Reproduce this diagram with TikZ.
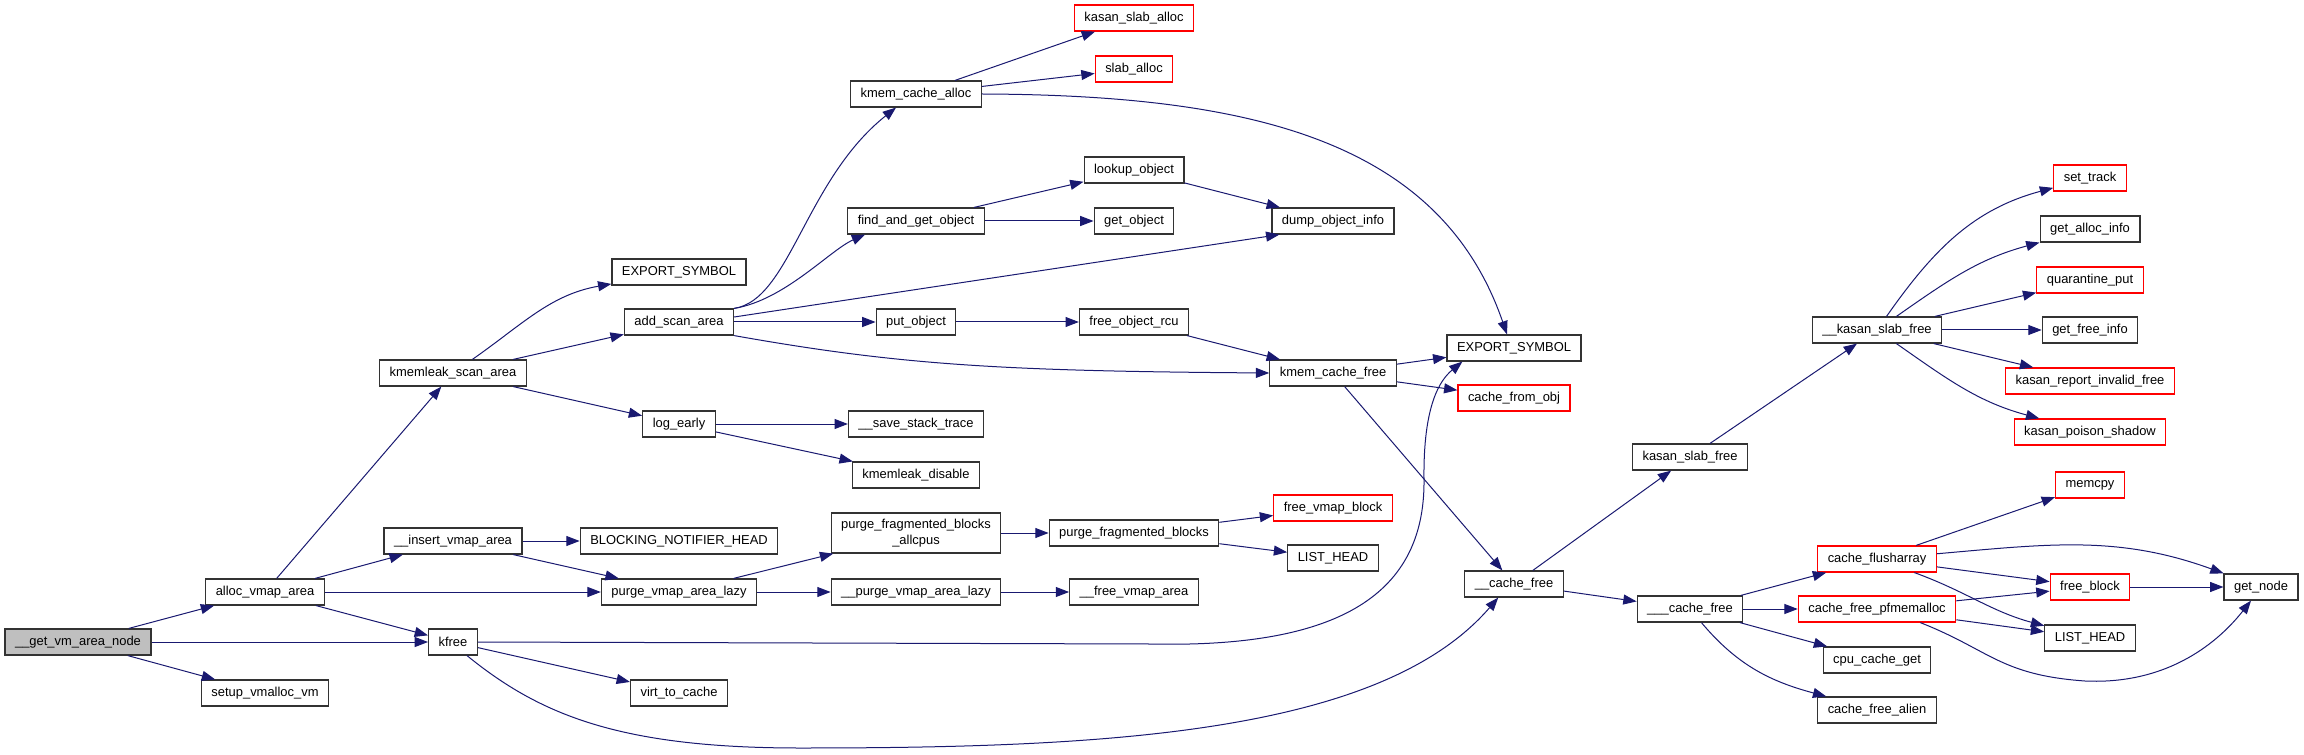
\documentclass[tikz,border=0pt]{standalone}
\usepackage{fontspec}
\setmainfont{Liberation Sans}
\usepackage{tikz}
\usetikzlibrary{arrows.meta, calc, positioning}
\definecolor{edgeblue}{RGB}{25,25,112}
\definecolor{rootgray}{RGB}{191,191,191}

\begin{document}
\begin{tikzpicture}[x=0.75pt, y=-0.75pt,
    fn/.style={draw=black!80, line width=0.9pt, fill=white, font=\fontsize{9.7}{11.5}\selectfont,
               inner xsep=7.5pt, inner ysep=0pt, minimum height=19.5pt},
    hid/.style={fn, draw=red},
    root/.style={fn, fill=rootgray},
    call/.style={draw=edgeblue, line width=0.75pt, -{Triangle[length=10pt, width=7.5pt]}}]
    \useasboundingbox (0,0) rectangle (2304,755);

    % caller
    \node[root] (gvan) at (78,642) {\_\_get\_vm\_area\_node};
    \node[fn] (ava) at (265,592) {alloc\_vmap\_area};
    \node[fn] (svv) at (265,693) {setup\_vmalloc\_vm};

    % second level
    \node[fn] (ksa) at (453,373) {kmemleak\_scan\_area};
    \node[fn] (iva) at (453,541) {\_\_insert\_vmap\_area};
    \node[fn] (kfree) at (453,642) {kfree};

    \node[fn] (esa) at (679,272) {EXPORT\_SYMBOL};
    \node[fn] (asa) at (679,322) {add\_scan\_area};
    \node[fn] (loge) at (679,424) {log\_early};
    \node[fn] (bnh) at (679,541) {BLOCKING\_NOTIFIER\_HEAD};
    \node[fn] (pval) at (679,592) {purge\_vmap\_area\_lazy};
    \node[fn] (vtc) at (679,693) {virt\_to\_cache};

    % kmemleak / vmap helpers
    \node[fn] (kca) at (916,94) {kmem\_cache\_alloc};
    \node[fn] (fgo) at (916,221) {find\_and\_get\_object};
    \node[fn] (puto) at (916,322) {put\_object};
    \node[fn] (sst) at (916,424) {\_\_save\_stack\_trace};
    \node[fn] (kdis) at (916,475) {kmemleak\_disable};
    \node[fn, align=center, minimum height=30pt] (pfba) at (916,533) {purge\_fragmented\_blocks\\\_allcpus};
    \node[fn] (upval) at (916,592) {\_\_purge\_vmap\_area\_lazy};

    \node[hid] (ksal) at (1134,18) {kasan\_slab\_alloc};
    \node[hid] (salloc) at (1134,69) {slab\_alloc};
    \node[fn] (lkp) at (1134,170) {lookup\_object};
    \node[fn] (geto) at (1134,221) {get\_object};
    \node[fn] (fobj) at (1134,322) {free\_object\_rcu};
    \node[fn] (pfb) at (1134,533) {purge\_fragmented\_blocks};
    \node[fn] (fva) at (1134,592) {\_\_free\_vmap\_area};

    \node[fn] (doi) at (1333,221) {dump\_object\_info};
    \node[fn] (kcf) at (1333,373) {kmem\_cache\_free};
    \node[hid] (fvb) at (1333,508) {free\_vmap\_block};
    \node[fn] (lha) at (1333,558) {LIST\_HEAD};

    % slab free path
    \node[fn] (esb) at (1514,348) {EXPORT\_SYMBOL};
    \node[hid] (cfo) at (1514,398) {cache\_from\_obj};
    \node[fn] (ucf) at (1514,584) {\_\_cache\_free};

    \node[fn] (ksf) at (1690,457) {kasan\_slab\_free};
    \node[fn] (uucf) at (1690,609) {\_\_\_cache\_free};

    \node[fn] (kksf) at (1877,330) {\_\_kasan\_slab\_free};
    \node[hid] (cfa) at (1877,559) {cache\_flusharray};
    \node[hid] (cfp) at (1877,609) {cache\_free\_pfmemalloc};
    \node[fn] (ccg) at (1877,660) {cpu\_cache\_get};
    \node[fn] (cfal) at (1877,710) {cache\_free\_alien};

    \node[hid] (strk) at (2090,178) {set\_track};
    \node[fn] (gai) at (2090,229) {get\_alloc\_info};
    \node[hid] (qput) at (2090,280) {quarantine\_put};
    \node[fn] (gfi) at (2090,330) {get\_free\_info};
    \node[hid] (krif) at (2090,381) {kasan\_report\_invalid\_free};
    \node[hid] (kps) at (2090,432) {kasan\_poison\_shadow};
    \node[hid] (mcpy) at (2090,485) {memcpy};
    \node[hid] (fblk) at (2090,587) {free\_block};
    \node[fn] (lhb) at (2090,638) {LIST\_HEAD};

    \node[fn] (gnode) at (2261,587) {get\_node};

    % calls
    \draw[call] (gvan) -- (ava);
    \draw[call] (gvan) -- (kfree);
    \draw[call] (gvan) -- (svv);

    \draw[call] (ava) -- (ksa);
    \draw[call] (ava) -- (iva);
    \draw[call] (ava) -- (pval);
    \draw[call] (ava) -- (kfree);

    \draw[call] (ksa) to[out=35, in=190] (esa);
    \draw[call] (ksa) -- (asa);
    \draw[call] (ksa) -- (loge);

    \draw[call] (asa.north east) .. controls (790,300) and (805,180) .. ($(kca.south)+(-20,0)$);
    \draw[call] (asa.north east) .. controls (785,300) and (830,250) .. ($(fgo.south west)+(18,0)$);
    \draw[call] ($(asa.east)+(0,-5)$) -- ($(doi.south west)+(8,0)$);
    \draw[call] (asa) -- (puto);
    \draw[call] (asa.south east) .. controls (900,365) and (1000,371) .. (kcf.west);

    \draw[call] (loge) -- (sst);
    \draw[call] (loge) -- (kdis);
    \draw[call] (iva) -- (bnh);
    \draw[call] (iva) -- (pval);
    \draw[call] (pval) -- (pfba);
    \draw[call] (pval) -- (upval);

    \draw[call] (kfree.east) -- (1150,644) .. controls (1330,648) and (1425,600) .. (1424,480)
        .. controls (1423,405) and (1440,380) .. ($(esb.south west)+(16,0)$);
    \draw[call] (kfree) -- (vtc);
    \draw[call] ($(kfree.south)+(14,0)$) .. controls (540,715) and (620,748) .. (800,748)
        .. controls (1100,748) and (1380,735) .. ($(ucf.south west)+(34,0)$);

    \draw[call] (kca) -- (ksal);
    \draw[call] (kca) -- (salloc);
    \draw[call] (kca.east) .. controls (1250,95) and (1440,140) .. ($(esb.north)+(-7,0)$);
    \draw[call] (fgo) -- (lkp);
    \draw[call] (fgo) -- (geto);
    \draw[call] (lkp) -- (doi);
    \draw[call] (puto) -- (fobj);
    \draw[call] (fobj) -- (kcf);
    \draw[call] (pfba) -- (pfb);
    \draw[call] (pfb) -- (fvb);
    \draw[call] (pfb) -- (lha);
    \draw[call] (upval) -- (fva);

    \draw[call] (kcf) -- (esb);
    \draw[call] (kcf) -- (cfo);
    \draw[call] (kcf) -- (ucf);
    \draw[call] (ucf) -- (ksf);
    \draw[call] (ucf) -- (uucf);
    \draw[call] (ksf) -- (kksf);

    \draw[call] (kksf) to[out=55, in=195] (strk);
    \draw[call] (kksf) to[out=35, in=195] (gai);
    \draw[call] (kksf) -- (qput);
    \draw[call] (kksf) -- (gfi);
    \draw[call] (kksf) -- (krif);
    \draw[call] (kksf) to[out=-35, in=165] (kps);

    \draw[call] (uucf) -- (cfa);
    \draw[call] (uucf) -- (cfp);
    \draw[call] (uucf) -- (ccg);
    \draw[call] (uucf) to[out=-50, in=165] (cfal);

    \draw[call] (cfa) -- (mcpy);
    \draw[call] (cfa) to[out=5, in=160] (gnode);
    \draw[call] (cfa) -- (fblk);
    \draw[call] (cfa) to[out=-20, in=165] (lhb);
    \draw[call] (cfp) -- (fblk);
    \draw[call] (cfp) -- (lhb);
    \draw[call] ($(cfp.south east)+(-36,0)$) .. controls (1990,650) and (2000,675) .. (2085,681)
        .. controls (2170,685) and (2220,640) .. ($(gnode.south)+(-10,0)$);
    \draw[call] (fblk) -- (gnode);
\end{tikzpicture}
\end{document}
